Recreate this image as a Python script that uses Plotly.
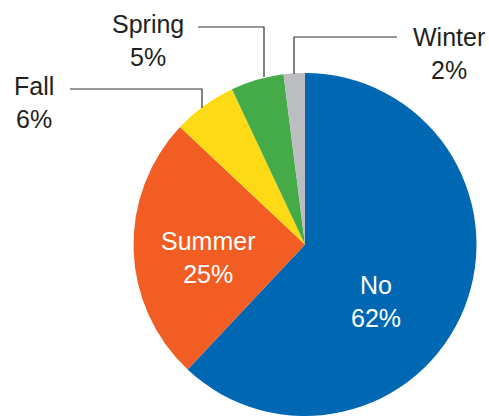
import plotly.graph_objects as go

# Data
categories = ["No", "Summer", "Fall", "Spring", "Winter"]
values = [62, 25, 6, 5, 2]
colors = ["#0068B3", "#F15D22", "#FDDA16", "#45AB48", "#BBBDC0"]

W, H = 489, 416
FONT = "Liberation Sans, Arial, sans-serif"
FS = 25

def px(x, y):
    return x / W, 1 - y / H

fig = go.Figure(go.Pie(
    labels=categories,
    values=values,
    marker=dict(colors=colors, line=dict(width=0)),
    sort=False,
    direction="clockwise",
    rotation=0,
    textinfo="none",
    hoverinfo="label+percent",
    domain=dict(x=[133 / W, 477 / W], y=[0, (416 - 73) / H]),
    showlegend=False,
))

pct = {c: v for c, v in zip(categories, values)}

# label placements (pixel centres)
label_pos = {
    "No": (376, 301, "white"),
    "Summer": (208, 257, "white"),
    "Fall": (34, 102, "#231F20"),
    "Spring": (148, 40, "#231F20"),
    "Winter": (449, 53, "#231F20"),
}

annotations = []
for c in categories:
    x, y, col = label_pos[c]
    ax, ay = px(x, y)
    annotations.append(dict(
        x=ax, y=ay, xref="paper", yref="paper",
        text=f"{c}<br>{pct[c]}%", showarrow=False,
        xanchor="center", yanchor="middle",
        font=dict(family=FONT, size=FS, color=col),
    ))

# leader lines (pixel paths)
leaders = [
    [(70, 89), (202, 89), (202, 108)],
    [(198, 27), (264, 27), (264, 77)],
    [(397, 37), (294, 37), (294, 74)],
]
shapes = []
for pts in leaders:
    path = ""
    for i, (x, y) in enumerate(pts):
        a, b = px(x, y)
        path += ("M" if i == 0 else "L") + f"{a},{b} "
    shapes.append(dict(type="path", path=path.strip(), xref="paper", yref="paper",
                       line=dict(color="#333333", width=1.2)))

fig.update_layout(
    width=W, height=H,
    margin=dict(l=0, r=0, t=0, b=0),
    paper_bgcolor="white",
    plot_bgcolor="white",
    annotations=annotations,
    shapes=shapes,
)

fig.write_html("out.html", config={"displayModeBar": False},
               post_script="document.body.style.margin='0';document.body.style.overflow='hidden';")
